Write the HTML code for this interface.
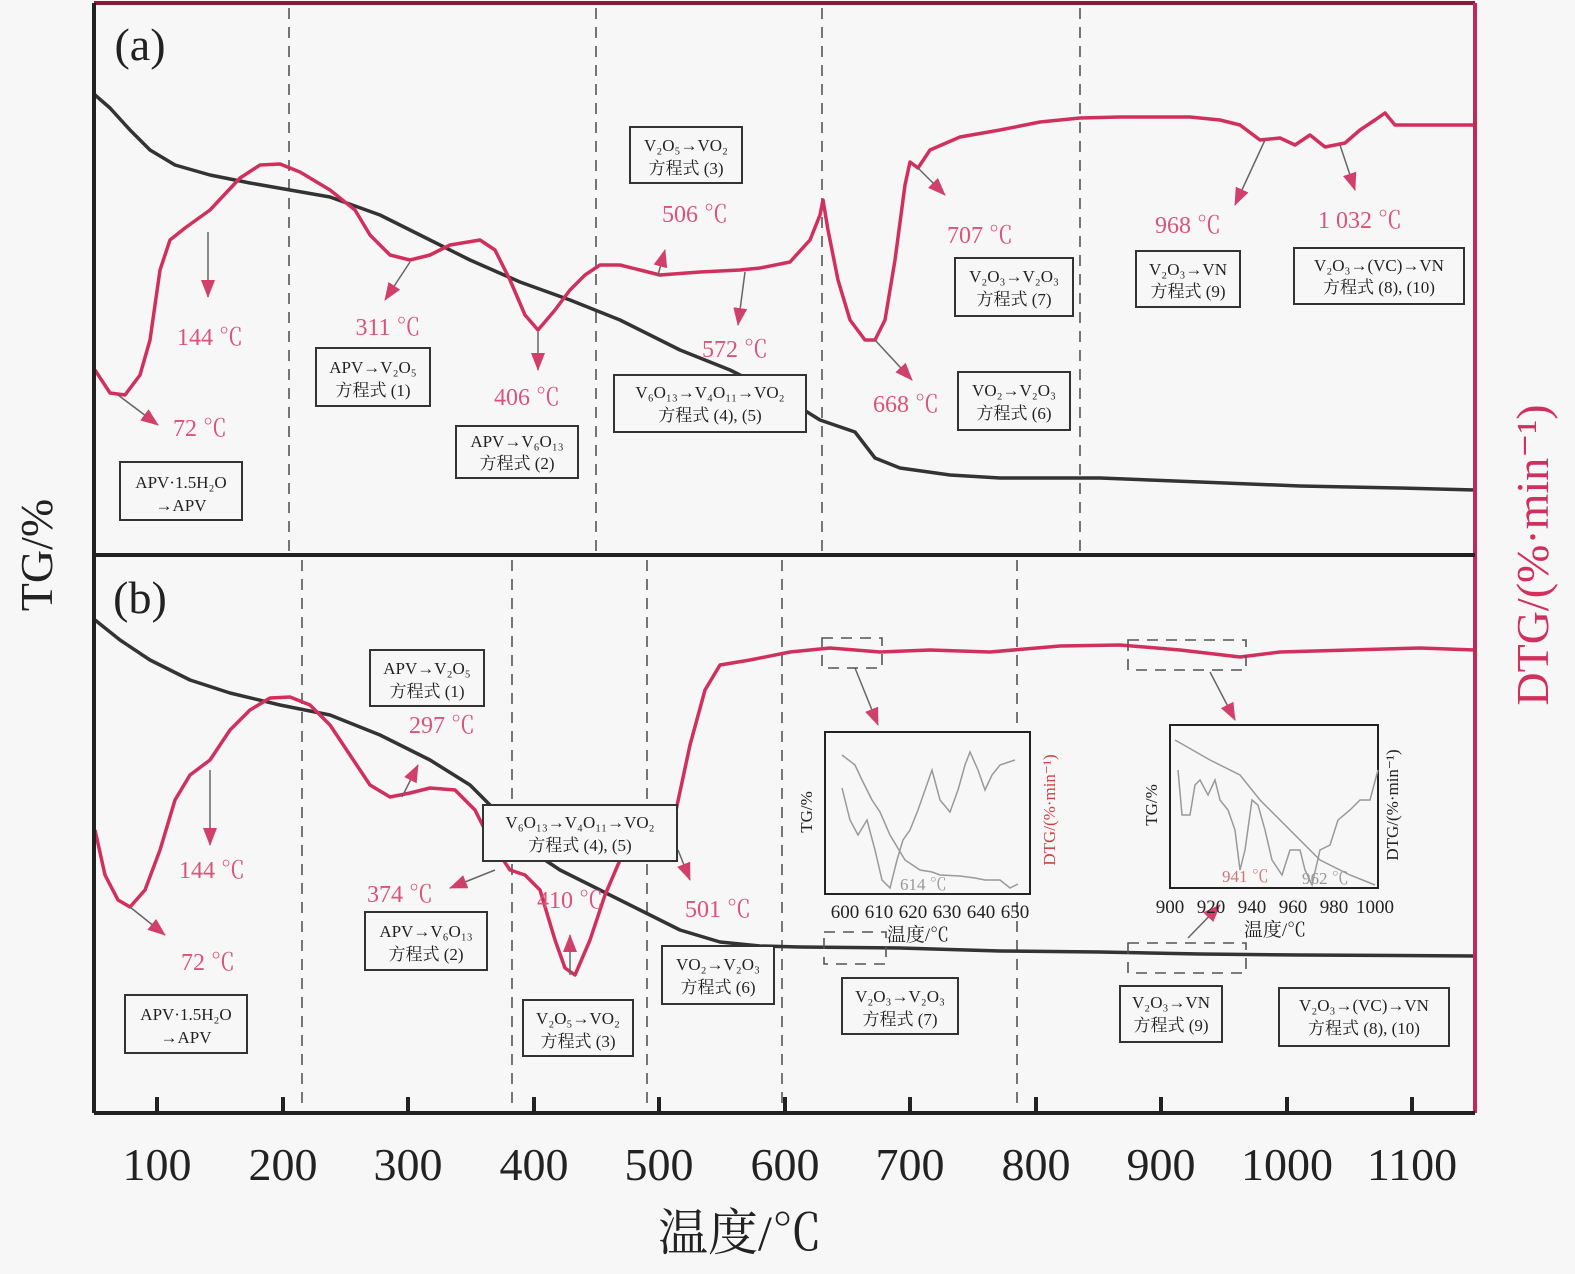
<!DOCTYPE html>
<html><head><meta charset="utf-8"><style>
body{margin:0;background:#f7f7f7}
svg{display:block}
.t{font-family:"Liberation Serif","Noto Serif CJK SC",serif}
.bx{fill:#f7f7f7;stroke:#333;stroke-width:2}
.bt{font-size:17px;fill:#222;text-anchor:middle}
.pk{font-size:24px;fill:#d9537a;text-anchor:middle}
.dl{stroke:#555;stroke-width:1.6;stroke-dasharray:11,8;fill:none}
.tg{fill:none;stroke:#333;stroke-width:3.5;stroke-linejoin:round}
.dt{fill:none;stroke:#d0305e;stroke-width:3.5;stroke-linejoin:round}
.ar{stroke:#666;stroke-width:1.5;fill:none;marker-end:url(#ah2)}
</style></head><body>
<svg width="1575" height="1274" viewBox="0 0 1575 1274" class="t">
<defs>
<marker id="ah2" markerWidth="18" markerHeight="14" refX="17" refY="7" orient="auto" markerUnits="userSpaceOnUse"><path d="M0,0 L18,7 L0,14 z" fill="#d0406a"/></marker></defs>
<rect x="0" y="0" width="1575" height="1274" fill="#f7f7f7"/>
<g class="dl">
<path d="M289,8V552M596,8V552M822,8V552M1080,8V552"/>
<path d="M302,560V1112M512,560V1112M647,560V1112M782,560V1112M1017,560V1112"/>
</g>
<path class="tg" d="M95,95 L110,108 L130,130 L150,150 L175,165 L210,175 L250,183 L290,190 L330,197 L380,215 L420,235 L470,260 L520,282 L570,300 L620,320 L680,350 L730,370 L780,395 L820,420 L855,432 L865,445 L875,458 L900,468 L950,475 L1000,478 L1100,478 L1200,482 L1300,486 L1400,488 L1475,490"/>
<path class="dt" d="M95,370 L110,393 L125,395 L140,375 L150,340 L160,270 L170,240 L185,228 L210,210 L240,178 L260,165 L280,164 L300,172 L330,190 L355,210 L370,235 L390,255 L410,260 L430,255 L450,245 L480,240 L495,250 L510,280 L525,315 L538,330 L555,310 L570,290 L585,275 L600,265 L620,265 L640,270 L660,275 L700,272 L740,270 L760,268 L790,262 L810,240 L820,215 L823,200 L828,230 L838,280 L850,320 L865,340 L875,340 L885,320 L895,260 L905,185 L910,162 L918,168 L930,150 L960,137 L1000,130 L1040,122 L1080,118 L1120,117 L1190,117 L1220,120 L1240,125 L1260,140 L1280,138 L1295,145 L1310,135 L1325,147 L1345,143 L1360,130 L1375,120 L1385,113 L1395,125 L1420,125 L1475,125"/>
<path class="tg" d="M95,620 L120,640 L150,660 L190,680 L230,693 L280,705 L330,715 L380,735 L430,760 L470,785 L500,815 L530,850 L560,870 L600,890 L640,910 L680,930 L720,942 L760,946 L800,947 L900,948 L1000,951 L1100,952 L1200,954 L1300,955 L1475,956"/>
<path class="dt" d="M95,830 L105,875 L118,900 L130,907 L145,890 L160,850 L175,800 L190,775 L210,760 L230,730 L250,710 L270,698 L290,697 L310,705 L330,725 L350,755 L370,785 L390,797 L410,793 L430,788 L455,790 L475,810 L490,840 L510,870 L525,875 L540,890 L555,940 L565,968 L575,975 L590,940 L605,895 L620,860 L640,843 L660,845 L675,815 L690,745 L705,690 L720,665 L750,660 L790,652 L830,648 L880,652 L930,650 L990,652 L1060,646 L1120,645 L1180,650 L1240,657 L1280,652 L1350,650 L1420,648 L1475,650"/>
<path d="M94,3H1475" stroke="#8a1a3a" stroke-width="4"/>
<path d="M94,3V1113" stroke="#222" stroke-width="4"/>
<path d="M1475,3V1113" stroke="#c0285a" stroke-width="4"/>
<path d="M94,555H1475" stroke="#222" stroke-width="4"/>
<path d="M94,1113H1475" stroke="#222" stroke-width="4"/>
<g stroke="#222" stroke-width="4">
<path d="M157,1113v-16M283,1113v-16M408,1113v-16M534,1113v-16M659,1113v-16M785,1113v-16M910,1113v-16M1036,1113v-16M1161,1113v-16M1287,1113v-16M1412,1113v-16"/>
</g>
<g font-size="46" fill="#222" text-anchor="middle">
<text x="157" y="1180">100</text><text x="283" y="1180">200</text><text x="408" y="1180">300</text><text x="534" y="1180">400</text><text x="659" y="1180">500</text><text x="785" y="1180">600</text><text x="910" y="1180">700</text><text x="1036" y="1180">800</text><text x="1161" y="1180">900</text><text x="1287" y="1180">1000</text><text x="1412" y="1180">1100</text>
<text x="740" y="1250" font-size="50">温度/℃</text>
<text transform="translate(52,555) rotate(-90)">TG/%</text>
<text transform="translate(1548,555) rotate(-90)" fill="#d0305e">DTG/(%·min⁻¹)</text>
<text x="140" y="60" text-anchor="middle">(a)</text>
<text x="140" y="613" text-anchor="middle">(b)</text>
</g>
<path class="ar" d="M208,232V297"/>
<path class="ar" d="M410,262L385,300"/>
<path class="ar" d="M538,332V370"/>
<path class="ar" d="M658,275L665,250"/>
<path class="ar" d="M745,272L738,325"/>
<path class="ar" d="M918,168L945,195"/>
<path class="ar" d="M875,340L912,380"/>
<path class="ar" d="M1265,140L1235,205"/>
<path class="ar" d="M1340,145L1355,190"/>
<path class="ar" d="M118,395L158,425"/>
<path class="ar" d="M210,770V845"/>
<path class="ar" d="M130,907L165,935"/>
<path class="ar" d="M402,797L418,765"/>
<path class="ar" d="M495,870L450,888"/>
<path class="ar" d="M570,975V935"/>
<path class="ar" d="M678,850L690,880"/>
<path class="ar" d="M855,668L878,725"/>
<path class="ar" d="M1210,672L1235,720"/>
<path class="ar" d="M900,860L878,888"/>
<path class="ar" d="M1188,938L1220,905"/>
<g class="pk">
<text x="210" y="345">144 ℃</text><text x="388" y="335">311 ℃</text><text x="527" y="405">406 ℃</text>
<text x="695" y="222">506 ℃</text><text x="735" y="357">572 ℃</text><text x="980" y="243">707 ℃</text>
<text x="906" y="412">668 ℃</text><text x="1188" y="233">968 ℃</text><text x="1360" y="228">1 032 ℃</text>
<text x="200" y="436">72 ℃</text>
<text x="212" y="878">144 ℃</text><text x="208" y="970">72 ℃</text><text x="442" y="733">297 ℃</text>
<text x="400" y="902">374 ℃</text><text x="570" y="908">410 ℃</text><text x="718" y="917">501 ℃</text>
</g>
<g>
<rect class="bx" x="120" y="462" width="122" height="58"/><text class="bt" x="181" y="488">APV·1.5H₂O</text><text class="bt" x="181" y="511">→APV</text>
<rect class="bx" x="316" y="348" width="114" height="58"/><text class="bt" x="373" y="373">APV→V₂O₅</text><text class="bt" x="373" y="396">方程式 (1)</text>
<rect class="bx" x="456" y="426" width="122" height="52"/><text class="bt" x="517" y="447">APV→V₆O₁₃</text><text class="bt" x="517" y="469">方程式 (2)</text>
<rect class="bx" x="630" y="127" width="112" height="56"/><text class="bt" x="686" y="151">V₂O₅→VO₂</text><text class="bt" x="686" y="174">方程式 (3)</text>
<rect class="bx" x="614" y="375" width="192" height="57"/><text class="bt" x="710" y="398">V₆O₁₃→V₄O₁₁→VO₂</text><text class="bt" x="710" y="421">方程式 (4), (5)</text>
<rect class="bx" x="958" y="372" width="112" height="58"/><text class="bt" x="1014" y="396">VO₂→V₂O₃</text><text class="bt" x="1014" y="419">方程式 (6)</text>
<rect class="bx" x="955" y="258" width="118" height="58"/><text class="bt" x="1014" y="282">V₂O₃→V₂O₃</text><text class="bt" x="1014" y="305">方程式 (7)</text>
<rect class="bx" x="1136" y="251" width="104" height="56"/><text class="bt" x="1188" y="275">V₂O₃→VN</text><text class="bt" x="1188" y="297">方程式 (9)</text>
<rect class="bx" x="1294" y="248" width="170" height="56"/><text class="bt" x="1379" y="271">V₂O₃→(VC)→VN</text><text class="bt" x="1379" y="293">方程式 (8), (10)</text>
</g>
<g>
<rect class="bx" x="125" y="995" width="122" height="58"/><text class="bt" x="186" y="1020">APV·1.5H₂O</text><text class="bt" x="186" y="1043">→APV</text>
<rect class="bx" x="370" y="650" width="114" height="56"/><text class="bt" x="427" y="674">APV→V₂O₅</text><text class="bt" x="427" y="697">方程式 (1)</text>
<rect class="bx" x="365" y="912" width="122" height="58"/><text class="bt" x="426" y="937">APV→V₆O₁₃</text><text class="bt" x="426" y="960">方程式 (2)</text>
<rect class="bx" x="483" y="805" width="194" height="56"/><text class="bt" x="580" y="828">V₆O₁₃→V₄O₁₁→VO₂</text><text class="bt" x="580" y="851">方程式 (4), (5)</text>
<rect class="bx" x="523" y="1000" width="110" height="56"/><text class="bt" x="578" y="1024">V₂O₅→VO₂</text><text class="bt" x="578" y="1047">方程式 (3)</text>
<rect class="bx" x="662" y="946" width="112" height="58"/><text class="bt" x="718" y="970">VO₂→V₂O₃</text><text class="bt" x="718" y="993">方程式 (6)</text>
<rect class="bx" x="842" y="978" width="116" height="56"/><text class="bt" x="900" y="1002">V₂O₃→V₂O₃</text><text class="bt" x="900" y="1025">方程式 (7)</text>
<rect class="bx" x="1120" y="986" width="102" height="56"/><text class="bt" x="1171" y="1008">V₂O₃→VN</text><text class="bt" x="1171" y="1031">方程式 (9)</text>
<rect class="bx" x="1279" y="988" width="170" height="58"/><text class="bt" x="1364" y="1011">V₂O₃→(VC)→VN</text><text class="bt" x="1364" y="1034">方程式 (8), (10)</text>
</g>
<g class="dl" stroke-dasharray="10,7">
<rect x="822" y="638" width="60" height="30"/><rect x="1128" y="640" width="118" height="30"/>
<rect x="824" y="932" width="62" height="32"/><rect x="1128" y="943" width="118" height="30"/>
</g>
<rect x="825" y="732" width="205" height="162" fill="#f7f7f7" stroke="#222" stroke-width="2"/>
<path d="M842,755 L855,765 L862,780 L872,800 L880,812 L890,835 L905,860 L920,870 L932,872 L940,875 L960,876 L975,878 L985,880 L1000,880 L1010,888 L1018,884" fill="none" stroke="#999" stroke-width="1.5"/>
<path d="M842,788 L850,820 L858,835 L867,820 L875,850 L882,880 L890,888 L897,860 L903,840 L910,830 L918,810 L925,790 L932,770 L940,800 L950,812 L958,790 L965,765 L970,752 L978,770 L985,790 L992,775 L1000,765 L1015,760" fill="none" stroke="#999" stroke-width="1.5"/>
<text x="900" y="890" font-size="17" fill="#999">614 ℃</text>
<rect x="1170" y="725" width="208" height="163" fill="#f7f7f7" stroke="#222" stroke-width="2"/>
<path d="M1175,740 L1210,760 L1240,775 L1260,800 L1290,830 L1320,860 L1350,875 L1375,885" fill="none" stroke="#999" stroke-width="1.5"/>
<path d="M1178,770 L1182,815 L1190,815 L1195,785 L1200,780 L1208,795 L1215,780 L1220,800 L1228,810 L1235,830 L1240,870 L1245,850 L1252,800 L1258,805 L1265,830 L1272,860 L1282,875 L1290,850 L1300,850 L1305,870 L1312,885 L1320,850 L1330,845 L1338,820 L1350,810 L1360,800 L1370,800 L1378,770" fill="none" stroke="#999" stroke-width="1.5"/>
<text x="1222" y="882" font-size="17" fill="#c77">941 ℃</text><text x="1302" y="884" font-size="17" fill="#999">962 ℃</text>
<g font-size="19" fill="#222" text-anchor="middle">
<text x="845" y="918">600</text><text x="879" y="918">610</text><text x="913" y="918">620</text><text x="947" y="918">630</text><text x="981" y="918">640</text><text x="1015" y="918">650</text>
<text x="918" y="941">温度/℃</text>
<text x="1170" y="913">900</text><text x="1211" y="913">920</text><text x="1252" y="913">940</text><text x="1293" y="913">960</text><text x="1334" y="913">980</text><text x="1375" y="913">1000</text>
<text x="1275" y="936">温度/℃</text>
<text transform="translate(812,812) rotate(-90)" font-size="17">TG/%</text>
<text transform="translate(1157,805) rotate(-90)" font-size="17">TG/%</text>
<text transform="translate(1055,810) rotate(-90)" fill="#c44" font-size="17">DTG/(%·min⁻¹)</text>
<text transform="translate(1398,805) rotate(-90)" font-size="17">DTG/(%·min⁻¹)</text>
</g>
</svg>
</body></html>
